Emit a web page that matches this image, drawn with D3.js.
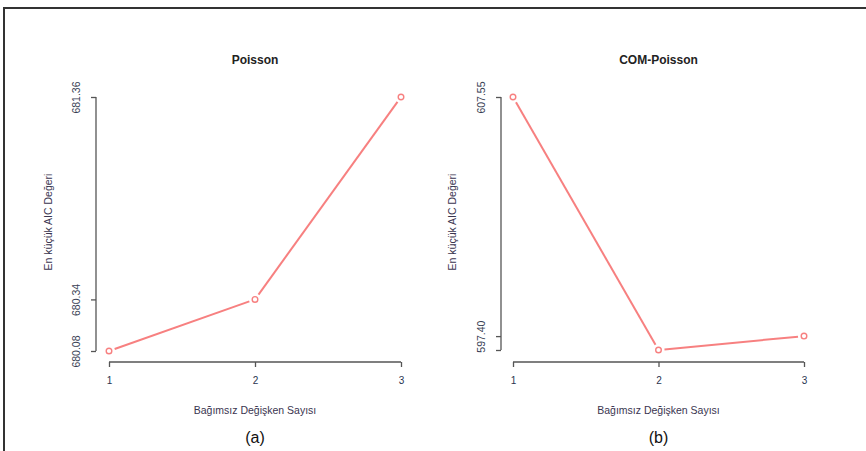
<!DOCTYPE html>
<html><head><meta charset="utf-8">
<script src="https://cdn.jsdelivr.net/npm/d3@7"></script>
<style>body{margin:0;background:#fff}svg{display:block}</style>
</head><body>
<svg id="c" width="866" height="451"></svg>
<script>
const categories = [1, 2, 3];
const poissonValues = [680.08, 680.34, 681.36];
const comPoissonValues = [607.55, 596.81, 597.40];
const poissonTicks = [680.08, 680.34, 681.36];
const poissonTickLabels = ["680.08", "680.34", "681.36"];
const comTicks = [596.81, 597.40, 607.55];
const comTickLabels = ["", "597.40", "607.55"];
const titles = ["Poisson", "COM-Poisson"];
const captions = ["(a)", "(b)"];
const xLabel = "Bağımsız Değişken Sayısı";
const yLabel = "En küçük AIC Değeri";

const svg = d3.select("#c");
// frame
svg.append("path").attr("d","M4,451 V8 H866").attr("fill","none").attr("stroke","#333").attr("stroke-width",2);

const panels = [
  {vals: poissonValues, ticks: poissonTicks, labels: poissonTickLabels, title: titles[0], cap: captions[0],
   x0:109, x1:401, yAxisX:96, yDom:[680.08,681.36], yR:[351,97], ylabX:52},
  {vals: comPoissonValues, ticks: comTicks, labels: comTickLabels, title: titles[1], cap: captions[1],
   x0:513, x1:804, yAxisX:501, yDom:[596.81,607.55], yR:[350,97], ylabX:456}
];
const font = "Liberation Sans, Arial, sans-serif";
panels.forEach(p => {
  const x = d3.scaleLinear().domain([1,3]).range([p.x0,p.x1]);
  const y = d3.scaleLinear().domain(p.yDom).range(p.yR);
  const g = svg.append("g");
  const cx = (p.x0+p.x1)/2;
  // x axis
  const xa = g.append("g").attr("transform","translate(0,362)")
    .call(d3.axisBottom(x).tickValues(categories).tickFormat(d3.format("d")).tickSizeInner(5).tickSizeOuter(0).tickPadding(10));
  xa.select(".domain").attr("d", `M${p.x0},0H${p.x1}`).attr("stroke","#555").attr("stroke-width",1.3);
  xa.selectAll(".tick line").attr("stroke","#555").attr("stroke-width",1.3);
  xa.selectAll("text").attr("font-family",font).attr("font-size",10).attr("fill","#2a3350");
  // y axis
  const ya = g.append("g").attr("transform",`translate(${p.yAxisX},0)`)
    .call(d3.axisLeft(y).tickValues(p.ticks).tickFormat((d,i)=>p.labels[i]).tickSizeInner(5).tickSizeOuter(0).tickPadding(0));
  ya.select(".domain").attr("d", `M0,${p.yR[0]}V${p.yR[1]}`).attr("stroke","#555").attr("stroke-width",1.3);
  ya.selectAll(".tick line").attr("stroke","#555").attr("stroke-width",1.3);
  ya.selectAll("text").attr("font-family",font).attr("font-size",10.5).attr("fill","#3a3f55")
    .attr("text-anchor","middle").attr("dy",0).attr("x",0)
    .attr("transform","translate(-16,0) rotate(-90)");
  const pts = p.vals.map((v,i)=>[x(categories[i]), y(v)]);
  // segments with gaps around points (R type="b")
  for (let i=0;i<pts.length-1;i++){
    const [ax,ay]=pts[i],[bx,by]=pts[i+1];
    const L=Math.hypot(bx-ax,by-ay), gap=6;
    const ux=(bx-ax)/L, uy=(by-ay)/L;
    g.append("line").attr("x1",ax+ux*gap).attr("y1",ay+uy*gap).attr("x2",bx-ux*gap).attr("y2",by-uy*gap)
      .attr("stroke","#f78080").attr("stroke-width",2);
  }
  g.selectAll("circle.pt").data(p.vals).enter().append("circle")
    .attr("cx",(d,i)=>x(categories[i])).attr("cy",d=>y(d)).attr("r",2.8)
    .attr("fill","none").attr("stroke","#f78080").attr("stroke-width",1.4);
  // title
  g.append("text").attr("x",cx).attr("y",64).attr("text-anchor","middle")
    .attr("font-family",font).attr("font-size",12).attr("font-weight","bold").attr("fill","#222").text(p.title);
  // x label
  g.append("text").attr("x",cx).attr("y",414).attr("text-anchor","middle")
    .attr("font-family",font).attr("font-size",10.5).attr("fill","#3a3550").text(xLabel);
  // y label
  g.append("text").attr("transform",`translate(${p.ylabX},222) rotate(-90)`).attr("text-anchor","middle")
    .attr("font-family",font).attr("font-size",10.5).attr("fill","#3a3550").text(yLabel);
  // caption
  g.append("text").attr("x",cx).attr("y",443).attr("text-anchor","middle")
    .attr("font-family",font).attr("font-size",16).attr("fill","#111").text(p.cap);
});
</script>
</body></html>
